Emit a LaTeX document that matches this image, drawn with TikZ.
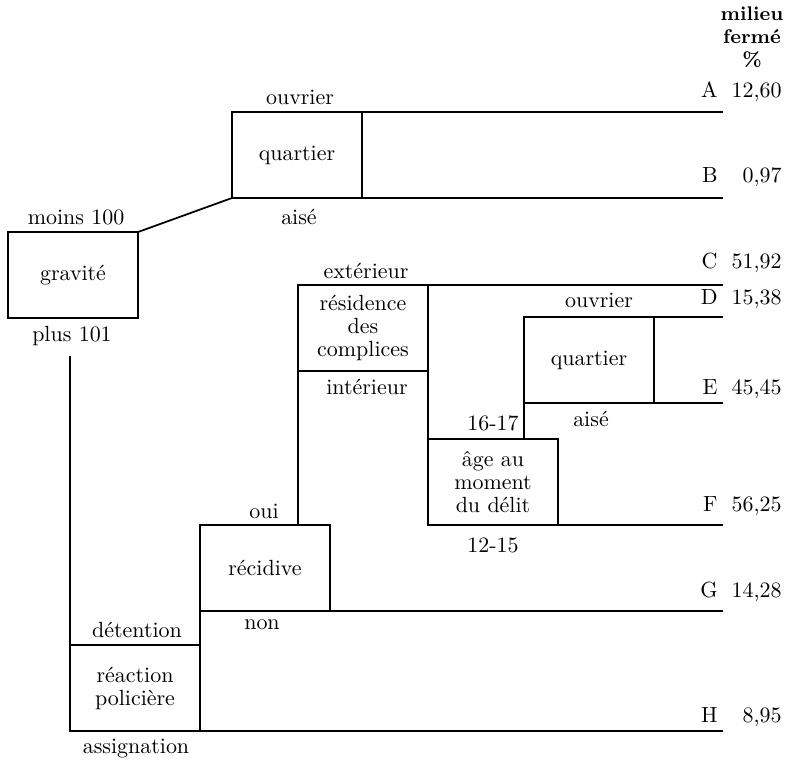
\documentclass[tikz,border=0pt]{standalone}
\usepackage{fontspec}
\usetikzlibrary{positioning}
\begin{document}
\begin{tikzpicture}[x=0.016cm,y=-0.016cm,
  box/.style={draw,line width=0.8pt,minimum width=2.08cm,minimum height=1.376cm,inner sep=0pt,outer sep=0pt,align=center,font=\fontsize{10}{10.5}\selectfont},
  lbl/.style={inner sep=0pt,font=\fontsize{10}{12}\selectfont},
  branch/.style={line width=0.8pt}]
\useasboundingbox (0,0) rectangle (790,760);
\coordinate (rim) at (723,0);
\node[box] (grav) at (73,275) {gravité};
\node[box] (quart1) at (297,155) {quartier};
\node[box] (resid) at (363,328) {résidence\\des\\complices};
\node[box] (quart2) at (589,360) {quartier};
\node[box] (age) at (493,482) {âge au\\moment\\du délit};
\node[box] (recid) at (265,568) {récidive};
\node[box] (react) at (135,688) {réaction\\policière};
\coordinate (plusend) at (70,356);
\draw[branch] (grav.north east) -- (quart1.south west);
\draw[branch] (plusend) -- (plusend |- react.north);
\draw[branch] (quart1.north east) -- (quart1.north east -| rim);
\draw[branch] (quart1.south east) -- (quart1.south east -| rim);
\draw[branch] (resid.north east) -- (resid.north east -| rim);
\draw[branch] (resid.south east) -- (age.north west);
\draw[branch] (resid.south west) -- (resid.south west |- recid.north);
\draw[branch] (quart2.north east) -- (quart2.north east -| rim);
\draw[branch] (quart2.south east) -- (quart2.south east -| rim);
\draw[branch] (quart2.south west) -- (quart2.south west |- age.north);
\draw[branch] (age.south east) -- (age.south east -| rim);
\draw[branch] (recid.south east) -- (recid.south east -| rim);
\draw[branch] (react.north east) -- (recid.south west);
\draw[branch] (react.south east) -- (react.south east -| rim);
\node[lbl] (moins) at (76,217) {moins 100};
\node[lbl] (plus) at (72,336) {plus 101};
\node[lbl] (ouv1) at (300,97) {ouvrier};
\node[lbl] (aise1) at (299,217) {aisé};
\node[lbl] (exter) at (366,271) {extérieur};
\node[lbl] (inter) at (367,387) {intérieur};
\node[lbl] (ouv2) at (599,300) {ouvrier};
\node[lbl] (aise2) at (591,419) {aisé};
\node[lbl] (age1617) at (493,423) {16-17};
\node[lbl] (age1215) at (493,545) {12-15};
\node[lbl] (oui) at (264,511) {oui};
\node[lbl] (non) at (262,625) {non};
\node[lbl] (deten) at (137,630) {détention};
\node[lbl] (assig) at (136,749) {assignation};
\node[lbl,align=center,font=\fontsize{9}{10.5}\selectfont\bfseries] (head) at (752,37) {milieu\\fermé\\\%};
\node[lbl,anchor=base east] (letA) at (718,97) {A};
\node[lbl,anchor=base east] (valA) at (782,97) {12,60};
\node[lbl,anchor=base east] (letB) at (718,182) {B};
\node[lbl,anchor=base east] (valB) at (782,182) {0,97};
\node[lbl,anchor=base east] (letC) at (718,268) {C};
\node[lbl,anchor=base east] (valC) at (782,268) {51,92};
\node[lbl,anchor=base east] (letD) at (718,304) {D};
\node[lbl,anchor=base east] (valD) at (782,304) {15,38};
\node[lbl,anchor=base east] (letE) at (718,394) {E};
\node[lbl,anchor=base east] (valE) at (782,394) {45,45};
\node[lbl,anchor=base east] (letF) at (718,511) {F};
\node[lbl,anchor=base east] (valF) at (782,511) {56,25};
\node[lbl,anchor=base east] (letG) at (718,597) {G};
\node[lbl,anchor=base east] (valG) at (782,597) {14,28};
\node[lbl,anchor=base east] (letH) at (718,722) {H};
\node[lbl,anchor=base east] (valH) at (782,722) {8,95};
\end{tikzpicture}
\end{document}
